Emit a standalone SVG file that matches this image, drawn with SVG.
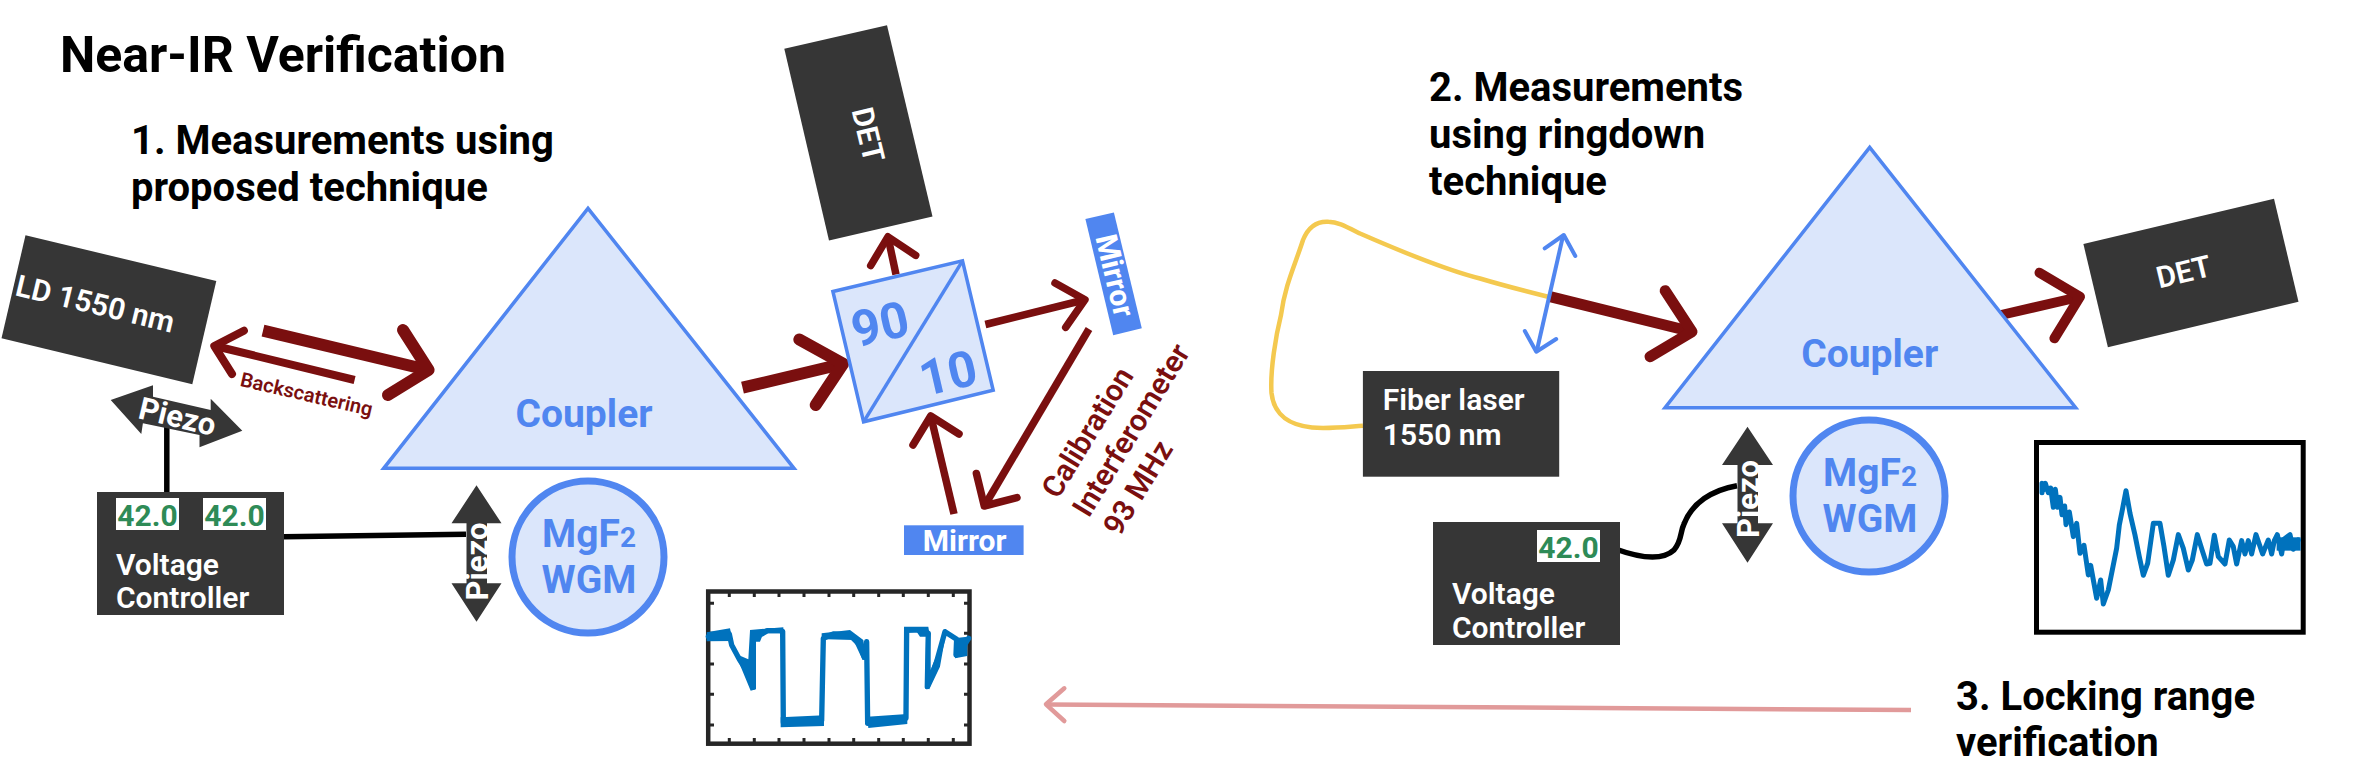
<svg xmlns="http://www.w3.org/2000/svg" width="2360" height="781" viewBox="0 0 2360 781">
<style>
  text { font-family: Roboto, "Liberation Sans", sans-serif; }
  .hd { font-size: 40px; font-weight: 700; fill: #000; }
  .dark { fill: #363636; }
  .wt { fill: #fff; font-weight: 600; font-size: 30px; }
  .piezo { fill: #fff; font-weight: 700; font-size: 31px; text-anchor: middle; }
  .blue { fill: #dbe6fb; stroke: #5086f0; stroke-width: 3.5; }
  .bt { fill: #5086f0; font-weight: 700; font-size: 39px; text-anchor: middle; }
  .readout { fill: #fff; }
  .num { fill: #2e8b57; font-weight: 700; font-size: 30px; text-anchor: middle; }
  .mirror { fill: #5086f0; }
  .mt { fill: #fff; font-weight: 700; font-size: 30px; text-anchor: middle; }
  .red { fill: none; stroke: #7a0f0f; }
  .rh { fill: none; stroke: #7a0f0f; stroke-linecap: round; stroke-linejoin: round; }
  .wire { fill: none; stroke: #000; stroke-width: 5.5; }
  .rtx { fill: #7a0f0f; font-weight: 600; }
  .tr1 { fill: none; stroke: #0072bd; stroke-linejoin: round; stroke-linecap: round; }
</style>

<text id="title" x="60" y="71.5" font-size="50" font-weight="700" fill="#000">Near-IR Verification</text>
<text id="label-1" class="hd"><tspan x="131" y="154">1. Measurements using</tspan><tspan x="131" y="201">proposed technique</tspan></text>
<text id="label-2" class="hd"><tspan x="1429" y="101">2. Measurements</tspan><tspan x="1429" y="147.5">using ringdown</tspan><tspan x="1429" y="194.5">technique</tspan></text>
<text id="label-3" class="hd"><tspan x="1956" y="709.5">3. Locking range</tspan><tspan x="1956" y="756">verification</tspan></text>

<g id="connectors">
  <!-- left bench: laser, coupler and splitter beams -->
  <line class="red" stroke-width="12" x1="263" y1="330.7" x2="428" y2="370"/>
  <polyline class="rh" stroke-width="12" points="403,330 428.6,370 388,395"/>
  <line class="red" stroke-width="8" x1="354.6" y1="380" x2="215" y2="346"/>
  <polyline class="rh" stroke-width="8" points="243.9,330.7 214.3,346 232,374"/>
  <line class="red" stroke-width="12" x1="742.5" y1="387.7" x2="842" y2="364"/>
  <polyline class="rh" stroke-width="12" points="799.3,339.6 843.2,363.7 815.7,405"/>
  <line class="red" stroke-width="7.5" x1="896" y1="274.5" x2="888" y2="237"/>
  <polyline class="rh" stroke-width="7.5" points="870.7,265.6 887.9,236.8 915.7,255.3"/>
  <line class="red" stroke-width="7.5" x1="985.4" y1="324.5" x2="1084" y2="300"/>
  <polyline class="rh" stroke-width="7.5" points="1055,283 1085,299.7 1065.7,327.4"/>
  <line class="red" stroke-width="7.5" x1="1089" y1="329" x2="985" y2="505"/>
  <polyline class="rh" stroke-width="7.5" points="976.4,473.5 984.3,506 1017,497.6"/>
  <line class="red" stroke-width="7.5" x1="954" y1="514" x2="931" y2="417"/>
  <polyline class="rh" stroke-width="7.5" points="913,445 930.7,416 959,434"/>
  <!-- voltage controller leads -->
  <line class="wire" x1="166.8" y1="426" x2="166.8" y2="492"/>
  <line class="wire" x1="284" y1="536.7" x2="466" y2="534.3"/>
  <path class="wire" d="M1615.5 549 C1632 555 1660 563 1674 550 C1682 541 1680 532 1684 524 C1692 503 1712 490 1737 485.7"/>
  <!-- right bench: fibre, beam to coupler, beam to detector -->
  <path d="M1362.9 425.7 C1345 427 1328 429 1312 427.5 C1290 425 1274 416 1271.5 393 C1270 370 1276 335 1281 315 C1285 285 1295 265 1303 240 C1309 225 1318 221 1328.5 221.7 C1338 222 1345 226 1360 233.5 C1400 251 1450 271 1480 278.5 C1505 286 1525 291 1549 297" fill="none" stroke="#f4c94f" stroke-width="4.5"/>
  <line class="red" stroke-width="11" x1="1550" y1="296.7" x2="1691" y2="331.5"/>
  <polyline class="rh" stroke-width="11" points="1665.2,290.7 1692,331.7 1650,356.7"/>
  <line class="red" stroke-width="10" x1="2001" y1="315" x2="2079" y2="297"/>
  <polyline class="rh" stroke-width="10" points="2039.5,272.7 2080,296.7 2054.4,338.3"/>
  <line stroke="#5086f0" stroke-width="4" x1="1563" y1="236" x2="1537" y2="350"/>
  <polyline class="rh" style="stroke:#5086f0" stroke-width="4" points="1544.7,248.3 1563.8,235 1575.3,256"/>
  <polyline class="rh" style="stroke:#5086f0" stroke-width="4" points="1524.8,331 1536.3,351.7 1556.2,339"/>
  <!-- trace carried from one bench to the other -->
  <line stroke="#e19a9a" stroke-width="4.5" x1="1911" y1="710" x2="1047" y2="704.5"/>
  <polyline class="rh" style="stroke:#e19a9a" stroke-width="4.5" points="1064.3,688.3 1046,704.3 1064.3,721"/>
</g>

<g id="ld-source">
  <polygon class="dark" points="25.5,235.3 216.3,281 192.3,384.3 1.5,338.3"/>
  <text class="wt" transform="translate(14 295) rotate(13.5)" font-size="30">LD 1550 nm</text>
</g>
<text id="backscattering" class="rtx" font-size="20" text-anchor="middle" transform="translate(305 401) rotate(13)">Backscattering</text>

<g id="piezo-a">
  <polygon class="dark" points="110.7,400 153,385.3 153,396.7 210.7,410 210.7,398.7 242.3,430.7 199.5,447.3 199.5,435 142.9,423.3 141.3,434"/>
  <text class="piezo" transform="translate(175 427) rotate(13.5)">Piezo</text>
</g>

<g id="controller-a">
  <rect class="dark" x="97" y="492" width="187" height="123"/>
  <rect class="readout" x="116" y="498" width="63" height="32"/>
  <rect class="readout" x="203" y="498" width="63" height="32"/>
  <text class="num" x="147.5" y="526">42.0</text>
  <text class="num" x="234.5" y="526">42.0</text>
  <text class="wt"><tspan x="116" y="575">Voltage</tspan><tspan x="116" y="608">Controller</tspan></text>
</g>

<g id="piezo-b">
  <polygon class="dark" points="476.5,485.3 501.5,523.3 487,523.3 487,583.3 501.5,583.3 476.5,621.7 451.5,583.3 466.5,583.3 466.5,523.3 451.5,523.3"/>
  <text class="piezo" transform="translate(488 561.5) rotate(-90)">Piezo</text>
</g>

<g id="coupler-a">
  <polygon class="blue" points="588,208.3 794,468.3 383.7,468.3"/>
  <text class="bt" x="584" y="426.5">Coupler</text>
</g>

<g id="wgm-a">
  <circle class="blue" style="stroke-width:7" cx="588" cy="557" r="76"/>
  <text class="bt" x="589" y="546.5">MgF<tspan font-size="28">2</tspan></text>
  <text class="bt" x="589" y="593">WGM</text>
</g>

<g id="splitter">
  <polygon class="blue" points="832.9,291.5 962.5,260.8 993.2,390.3 863.6,421.8"/>
  <line stroke="#5086f0" stroke-width="3.5" x1="863.6" y1="421.8" x2="962.5" y2="260.8"/>
  <text fill="#5086f0" font-weight="700" font-size="50" text-anchor="middle" transform="translate(884 341) rotate(-13)">90</text>
  <text fill="#5086f0" font-weight="700" font-size="50" text-anchor="middle" transform="translate(952 390) rotate(-13)">10</text>
</g>

<g id="det-a">
  <polygon class="dark" points="784.3,48.8 887,25.2 932.5,216.4 829,240.5"/>
  <text class="wt" text-anchor="middle" font-size="29" transform="translate(858 137) rotate(76.5)">DET</text>
</g>

<g id="mirror-a">
  <polygon class="mirror" points="1085.4,219 1113.9,212.4 1141.8,328.2 1113.2,335.2"/>
  <text class="mt" transform="translate(1105 278) rotate(76.5)">Mirror</text>
</g>

<g id="mirror-b">
  <rect class="mirror" x="904" y="525.3" width="119.6" height="29.7"/>
  <text class="mt" x="964.6" y="550.5">Mirror</text>
</g>

<text id="calibration" class="rtx" font-size="30" transform="rotate(-58.5 1058 500)"><tspan x="1058" y="500">Calibration</tspan><tspan x="1058" y="536">Interferometer</tspan><tspan x="1058" y="572">93 MHz</tspan></text>

<g id="plot-a">
  <rect x="708.2" y="591.5" width="261.3" height="152.2" fill="#fff" stroke="#262626" stroke-width="4.5"/>
  <path fill="none" stroke="#262626" stroke-width="3" d="M729.3 592v5M754.3 592v5M779 592v5M804 592v5M829 592v5M853.7 592v5M878.7 592v5M903.3 592v5M928.3 592v5M953.3 592v5M729.3 743v-5M754.3 743v-5M779 743v-5M804 743v-5M829 743v-5M853.7 743v-5M878.7 743v-5M903.3 743v-5M928.3 743v-5M953.3 743v-5M709 603.3h5M709 633.3h5M709 664h5M709 694.3h5M709 725h5M969 603.3h-5M969 633.3h-5M969 664h-5M969 694.3h-5M969 725h-5"/>
  <g transform="translate(680 570) scale(0.3333)">
    <path class="tr1" stroke-width="16" d="M85 200 L120 192 L148 192 L155 225 L178 268 L205 310 L220 352 L220 195 L240 195 L262 182 L300 182 L308 184 L310 457 L425 452 L430 205 L460 192 L510 195 L540 225 L553 262 L560 215 L563 460 L655 450 L678 445 L680 180 L720 180 L745 190 L742 350 L770 275 L795 185 L830 208 L828 255 L838 250 L866 205"/>
    <path fill="#0072bd" d="M80 187 L150 175 L158 213 L80 214Z M145 200 L175 255 L205 268 L210 182 L228 182 L228 358 L212 362Z M302 442 L432 436 L432 468 L302 472Z M562 440 L682 432 L682 462 L565 474Z M210 180 L310 172 L310 190 L250 190 L240 215 L210 215Z M425 190 L510 180 L550 210 L558 262 L548 270 L520 210 L440 208 L425 215Z M672 170 L745 170 L750 200 L720 200 L710 185 L672 190Z M738 200 L750 200 L752 300 L780 230 L800 178 L780 290 L748 358 L736 355Z M822 205 L862 200 L862 258 L825 265Z"/>
  </g>
</g>

<g id="coupler-b">
  <polygon class="blue" points="1869.7,147.3 2075.7,407.7 1665,407.7"/>
  <text class="bt" x="1869.7" y="366.5">Coupler</text>
</g>

<g id="det-b">
  <polygon class="dark" points="2083.4,244 2274,198.7 2298.5,301.7 2107.9,347.3"/>
  <text class="wt" text-anchor="middle" font-size="29" transform="translate(2186 282) rotate(-13.5)">DET</text>
</g>

<g id="fiber-laser">
  <rect class="dark" x="1362.9" y="371" width="196.3" height="105.7"/>
  <text class="wt"><tspan x="1382.8" y="410">Fiber laser</tspan><tspan x="1382.8" y="445">1550 nm</tspan></text>
</g>

<g id="controller-b">
  <rect class="dark" x="1433" y="522" width="187" height="123"/>
  <rect class="readout" x="1537" y="530" width="63" height="32"/>
  <text class="num" x="1568.5" y="558">42.0</text>
  <text class="wt"><tspan x="1452" y="604">Voltage</tspan><tspan x="1452" y="638">Controller</tspan></text>
</g>

<g id="piezo-c">
  <polygon class="dark" points="1747.5,426.7 1773,465 1758,465 1758,523.3 1773,523.3 1747.5,562.7 1722,523.3 1737.5,523.3 1737.5,465 1722,465"/>
  <text class="piezo" transform="translate(1759 499) rotate(-90)">Piezo</text>
</g>

<g id="wgm-b">
  <circle class="blue" style="stroke-width:7" cx="1869" cy="496" r="76"/>
  <text class="bt" x="1870" y="486">MgF<tspan font-size="28">2</tspan></text>
  <text class="bt" x="1870" y="532">WGM</text>
</g>

<g id="plot-b">
  <rect x="2036.5" y="442.5" width="266.7" height="189.7" fill="#fff" stroke="#000" stroke-width="5"/>
  <g transform="translate(1980 420) scale(0.3333)">
    <path class="tr1" stroke-width="15" d="M186 218 L186 190 L190 210 L196 190 L205 218 L212 204 L220 262 L226 208 L233 262 L240 232 L246 284 L254 258 L258 314 L268 276 L280 350 L290 310 L300 400 L312 376 L325 465 L332 436 L350 535 L362 480 L370 552 L385 510 L395 460 L410 385 L418 315 L428 265 L438 212 L450 280 L465 345 L478 410 L490 466 L503 430 L520 310 L540 310 L552 380 L565 466 L580 420 L595 344 L610 385 L625 450 L637 420 L652 344 L668 395 L680 432 L690 430 L703 346 L715 410 L735 432 L748 360 L760 380 L770 432 L785 362 L795 402 L805 362 L815 402 L828 344 L848 402 L865 360 L875 402 L883 362 L892 344 L905 402 L912 358 L930 344 L940 388 L955 360"/>
    <rect x="890" y="352" width="72" height="40" fill="#0072bd"/>
  </g>
</g>
</svg>
